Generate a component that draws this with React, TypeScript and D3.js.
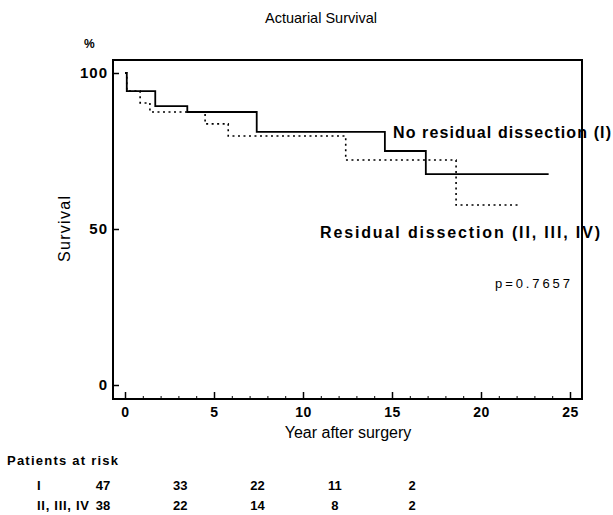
import { useEffect, useRef } from "react";
import { axisBottom, axisLeft, curveStepAfter, line, scaleLinear, select } from "d3";

// group I: no residual dissection
const timesI = [0, 0.1, 1.7, 3.5, 7.4, 14.6, 16.9, 23.8];
const survI = [100, 94.2, 89.4, 87.5, 81.1, 75.0, 67.6, 67.6];

// groups II, III, IV: residual dissection
const timesR = [0, 0.1, 0.85, 1.4, 4.5, 5.8, 12.4, 18.6, 22.1];
const survR = [100, 94.2, 90.4, 87.5, 83.7, 79.8, 72.1, 57.7, 57.7];

const xTicks = [0, 5, 10, 15, 20, 25];
const yTicks = [0, 50, 100];

const riskYears = [0, 5, 10, 15, 20];
const riskI = [47, 33, 22, 11, 2];
const riskR = [38, 22, 14, 8, 2];

const width = 613;
const height = 515;
const frame = { left: 113, right: 582, top: 60, bottom: 399 };
const font = "Liberation Sans, Arial, sans-serif";

const x = scaleLinear().domain([0, 25]).range([125, 570]);
const y = scaleLinear().domain([0, 100]).range([385, 73]);
const riskX = scaleLinear().domain([0, 20]).range([103, 412]);

function App() {
  const xRef = useRef<SVGGElement>(null);
  const xMinorRef = useRef<SVGGElement>(null);
  const yRef = useRef<SVGGElement>(null);

  useEffect(() => {
    const gx = select(xRef.current!);
    gx.call(
      axisBottom(x)
        .tickValues(xTicks)
        .tickSizeInner(-7)
        .tickSizeOuter(0)
        .tickPadding(8)
    );
    gx.select(".domain").remove();
    gx.selectAll("line").attr("stroke-width", 1.5);
    gx.selectAll("text")
      .attr("font-family", font)
      .attr("font-size", 14)
      .attr("font-weight", "bold")
      .attr("letter-spacing", 0.5);

    const gm = select(xMinorRef.current!);
    gm.call(
      axisBottom(x)
        .tickValues(Array.from({ length: 26 }, (_, i) => i))
        .tickSizeInner(-3)
        .tickSizeOuter(0)
        .tickFormat(() => "")
    );
    gm.select(".domain").remove();

    const gy = select(yRef.current!);
    gy.call(
      axisLeft(y)
        .tickValues(yTicks)
        .tickSizeInner(-6)
        .tickSizeOuter(0)
        .tickPadding(5)
    );
    gy.select(".domain").remove();
    gy.selectAll("line").attr("stroke-width", 1.5);
    gy.selectAll("text")
      .attr("font-family", font)
      .attr("font-size", 15)
      .attr("font-weight", "bold")
      .attr("letter-spacing", 1);
  }, []);

  const pathI = line<number>()
    .x((d) => x(d))
    .y((_, i) => y(survI[i]))
    .curve(curveStepAfter)(timesI);
  const pathR = line<number>()
    .x((d) => x(d))
    .y((_, i) => y(survR[i]))
    .curve(curveStepAfter)(timesR);

  return (
    <svg
      width={width}
      height={height}
      style={{ position: "absolute", left: 0, top: 0, background: "#fff" }}
      fontFamily={font}
    >
      <text x={321} y={23} textAnchor="middle" fontSize={14.5}>
        Actuarial Survival
      </text>
      <text x={84} y={48} fontSize={12} fontWeight="bold">
        %
      </text>
      <rect
        x={frame.left}
        y={frame.top}
        width={frame.right - frame.left}
        height={frame.bottom - frame.top}
        fill="none"
        stroke="#000"
        strokeWidth={2}
      />
      <g ref={xRef} transform={`translate(0,${frame.bottom})`} />
      <g ref={xMinorRef} transform={`translate(0,${frame.bottom})`} />
      <g ref={yRef} transform={`translate(${frame.left},0)`} />

      <path d={pathR ?? ""} fill="none" stroke="#000" strokeWidth={1.6} strokeDasharray="2,3.5" />
      <path d={pathI ?? ""} fill="none" stroke="#000" strokeWidth={1.8} />

      <text x={393} y={138} fontSize={16} fontWeight="bold" textLength={218} lengthAdjust="spacing">
        No residual dissection (I)
      </text>
      <text x={320} y={238} fontSize={16} fontWeight="bold" textLength={280} lengthAdjust="spacing">
        Residual dissection (II, III, IV)
      </text>
      <text x={495} y={288} fontSize={13} textLength={75} lengthAdjust="spacing">
        p=0.7657
      </text>

      <text
        transform="translate(70,229) rotate(-90)"
        x={-33}
        fontSize={16}
        textLength={66}
        lengthAdjust="spacing"
      >
        Survival
      </text>
      <text x={348} y={438} textAnchor="middle" fontSize={16}>
        Year after surgery
      </text>

      <text x={7} y={465} fontSize={13} fontWeight="bold" textLength={111} lengthAdjust="spacing">
        Patients at risk
      </text>
      <text x={37} y={490} fontSize={13} fontWeight="bold">
        I
      </text>
      <text x={37} y={510} fontSize={13} fontWeight="bold" textLength={52} lengthAdjust="spacing">
        II, III, IV
      </text>
      {riskYears.map((yr, i) => (
        <g key={yr}>
          <text x={riskX(yr)} y={490} textAnchor="middle" fontSize={13} fontWeight="bold">
            {riskI[i]}
          </text>
          <text x={riskX(yr)} y={510} textAnchor="middle" fontSize={13} fontWeight="bold">
            {riskR[i]}
          </text>
        </g>
      ))}
    </svg>
  );
}

export default App;
